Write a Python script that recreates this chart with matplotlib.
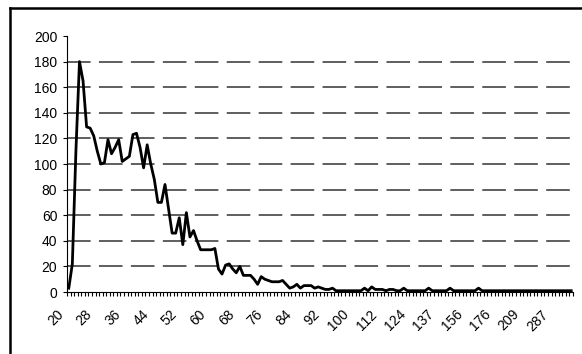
import matplotlib
matplotlib.use('Agg')
import matplotlib.pyplot as plt
import matplotlib.transforms as mtransforms
from matplotlib.lines import Line2D
import numpy as np

plt.rcParams['font.family'] = ['Liberation Sans', 'DejaVu Sans']
plt.rcParams['lines.scale_dashes'] = False

# category labels (unique values on the x axis)
categories = [
    '20', '21', '22', '23', '24', '25', '26', '27', '28', '29', '30', '31', '32', '33', '34', '35',
    '36', '37', '38', '39', '40', '41', '42', '43', '44', '45', '46', '47', '48', '49', '50', '51',
    '52', '53', '54', '55', '56', '57', '58', '59', '60', '61', '62', '63', '64', '65', '66', '67',
    '68', '69', '70', '71', '72', '73', '74', '75', '76', '77', '78', '79', '80', '81', '82', '83',
    '84', '85', '86', '87', '88', '89', '90', '91', '92', '93', '94', '95', '96', '97', '98', '99',
    '100', '101', '102', '103', '104', '106', '108', '110', '112', '113', '114', '115', '117', '119',
    '120', '122', '124', '125', '126', '128', '130', '132', '133', '135', '137', '139', '141', '143',
    '145', '148', '150', '153', '156', '158', '160', '163', '165', '168', '170', '173', '176', '180',
    '184', '188', '192', '196', '200', '205', '209', '215', '222', '230', '240', '250', '260', '273',
    '287', '300', '320', '350', '400', '480',
]

# counts per category
counts = [
    3, 22, 110, 180, 165, 129, 128, 122, 110, 100, 101, 119, 108, 113, 119, 102,
    104, 106, 123, 124, 113, 97, 115, 100, 88, 70, 70, 84, 65, 46, 46, 58,
    37, 62, 43, 48, 40, 33, 33, 33, 33, 34, 18, 14, 21, 22, 18, 15,
    20, 13, 13, 13, 10, 6, 12, 10, 9, 8, 8, 8, 9, 6, 3, 4,
    6, 3, 5, 5, 5, 3, 4, 3, 2, 2, 3, 1, 1, 1, 1, 1,
    1, 1, 1, 3, 1, 4, 2, 2, 2, 1, 2, 2, 1, 1, 3, 1,
    1, 1, 1, 1, 1, 3, 1, 1, 1, 1, 1, 3, 1, 1, 1, 1,
    1, 1, 1, 3, 1, 1, 1, 1, 1, 1, 1, 1, 1, 1, 1, 1,
    1, 1, 1, 1, 1, 1, 1, 1, 1, 1, 1, 1, 1, 1,
]

y_ticks = [0, 20, 40, 60, 80, 100, 120, 140, 160, 180, 200]
grid_levels = [20, 40, 60, 80, 100, 120, 140, 160, 180]
label_step = 8

W, H = 582, 354
fig = plt.figure(figsize=(W / 100, H / 100), dpi=100)
ax = fig.add_axes([67 / W, 1 - 292 / H, (573 - 67) / W, (292 - 36) / H])

n = len(categories)
x = np.arange(n)

# gridlines
ax.hlines(grid_levels, -0.5, n - 0.5, colors='#333333', linewidth=1.1,
          linestyles=[(0, (17.0, 6.0))], zorder=1)

ax.plot(x, counts, color='black', linewidth=2.0, zorder=3)

ax.set_xlim(-0.5, n - 0.5)
ax.set_ylim(0, 200)

for s in ['top', 'right']:
    ax.spines[s].set_visible(False)
for s in ['left', 'bottom']:
    ax.spines[s].set_linewidth(0.8)
    ax.spines[s].set_color('black')
    ax.spines[s].set_zorder(4)

ax.set_yticks(y_ticks)
ax.set_yticklabels([str(v) for v in y_ticks])
ax.tick_params(axis='y', direction='out', length=3, width=0.8, pad=4,
               labelsize=10, colors='black')

major_idx = list(range(0, n, label_step))
ax.set_xticks(major_idx)
ax.set_xticklabels([categories[i] for i in major_idx], rotation=45,
                   ha='right', va='top')
ax.set_xticks(np.arange(-0.5, n, 1.0), minor=True)
ax.tick_params(axis='x', which='major', length=0, pad=11, labelsize=10,
               colors='black')
ax.tick_params(axis='x', which='minor', direction='out', length=3, width=0.8)

offset = mtransforms.ScaledTranslation(-2 / 72, 0, fig.dpi_scale_trans)
for lab in ax.get_xticklabels():
    lab.set_transform(lab.get_transform() + offset)

# outer chart frame
lw_frame = 1.8
fig.add_artist(Line2D([10 / W, 10 / W], [-0.05, 1 - 8 / H], transform=fig.transFigure,
                      color='black', linewidth=lw_frame, solid_capstyle='projecting'))
fig.add_artist(Line2D([10 / W, 1.05], [1 - 8 / H, 1 - 8 / H], transform=fig.transFigure,
                      color='black', linewidth=lw_frame, solid_capstyle='projecting'))

fig.savefig('out.png', dpi=100)
